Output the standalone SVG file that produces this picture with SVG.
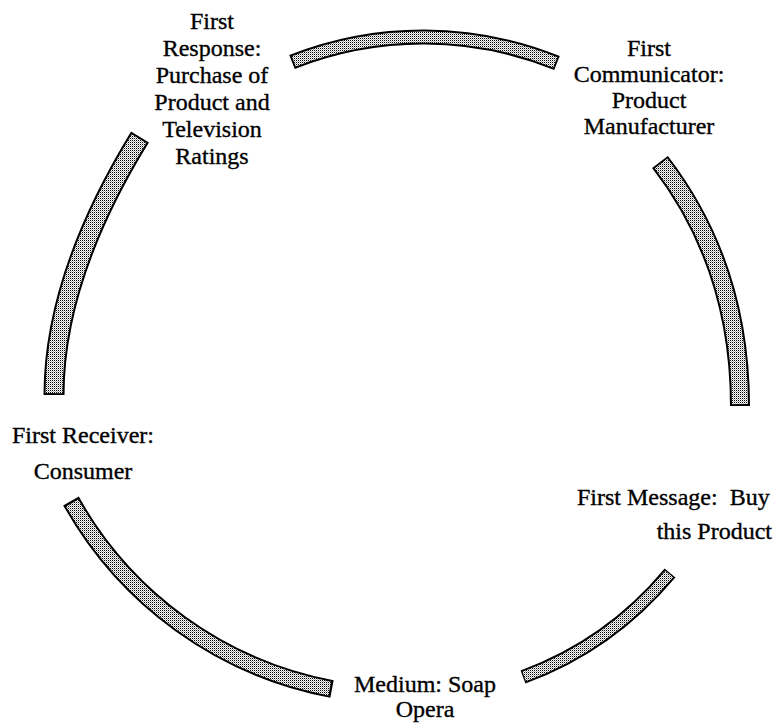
<svg xmlns="http://www.w3.org/2000/svg" width="775" height="725" viewBox="0 0 775 725">
  <style>
    .lbl { font-family: "Liberation Serif", "Times New Roman", serif; font-size: 24px; fill: #000; stroke: #000; stroke-width: 0.35; text-anchor: middle; white-space: pre; }
    .edge { stroke: #000; fill: none; stroke-linecap: butt; }
    .fillband { stroke: url(#dots); fill: none; stroke-linecap: butt; stroke-dasharray: 0 0.7 98.6 100; }
  </style>
  <defs>
    <pattern id="dots" width="2" height="2" patternUnits="userSpaceOnUse">
      <rect width="2" height="2" fill="#fff"/>
      <rect x="0" y="0" width="1" height="1" fill="#000"/>
      <rect x="1" y="1" width="1" height="1" fill="#aaa"/>
    </pattern>
  </defs>
  <rect width="775" height="725" fill="#fff"/>

  <g id="connectors">
    <g id="arc-top">
      <path class="edge" stroke-width="15" d="M292,62 A357,357 0 0 1 557,63"/>
      <path class="fillband" stroke-width="11" pathLength="100" d="M292,62 A357,357 0 0 1 557,63"/>
    </g>
    <g id="arc-right">
      <path class="edge" stroke-width="20" d="M660,162 Q740,266 740,406"/>
      <path class="fillband" stroke-width="16" pathLength="100" d="M660,162 Q740,266 740,406"/>
    </g>
    <g id="arc-bottom-right">
      <path class="edge" stroke-width="14" d="M670,573 Q610,645 523,677"/>
      <path class="fillband" stroke-width="10" pathLength="100" d="M670,573 Q610,645 523,677"/>
    </g>
    <g id="arc-bottom">
      <path class="edge" stroke-width="18" d="M71,501 A380,380 0 0 0 332,689"/>
      <path class="fillband" stroke-width="14" pathLength="100" d="M71,501 A380,380 0 0 0 332,689"/>
    </g>
    <g id="arc-left">
      <path class="edge" stroke-width="21" d="M140,137 Q54,277 54,395"/>
      <path class="fillband" stroke-width="17" pathLength="100" d="M140,137 Q54,277 54,395"/>
    </g>
  </g>

  <g id="node-first-response">
    <text class="lbl" x="212" y="29">First</text>
    <text class="lbl" x="212" y="56">Response:</text>
    <text class="lbl" x="212" y="83">Purchase of</text>
    <text class="lbl" x="212" y="110">Product and</text>
    <text class="lbl" x="212" y="137">Television</text>
    <text class="lbl" x="212" y="164">Ratings</text>
  </g>
  <g id="node-first-communicator">
    <text class="lbl" x="649" y="56">First</text>
    <text class="lbl" x="649" y="82">Communicator:</text>
    <text class="lbl" x="649" y="108">Product</text>
    <text class="lbl" x="649" y="134">Manufacturer</text>
  </g>
  <g id="node-first-message">
    <text class="lbl" x="577" y="505" style="text-anchor:start">First Message:  Buy</text>
    <text class="lbl" x="772" y="539" style="text-anchor:end">this Product</text>
  </g>
  <g id="node-medium">
    <text class="lbl" x="425" y="692">Medium: Soap</text>
    <text class="lbl" x="425" y="717">Opera</text>
  </g>
  <g id="node-first-receiver">
    <text class="lbl" x="83" y="443">First Receiver:</text>
    <text class="lbl" x="83" y="479">Consumer</text>
  </g>
</svg>
